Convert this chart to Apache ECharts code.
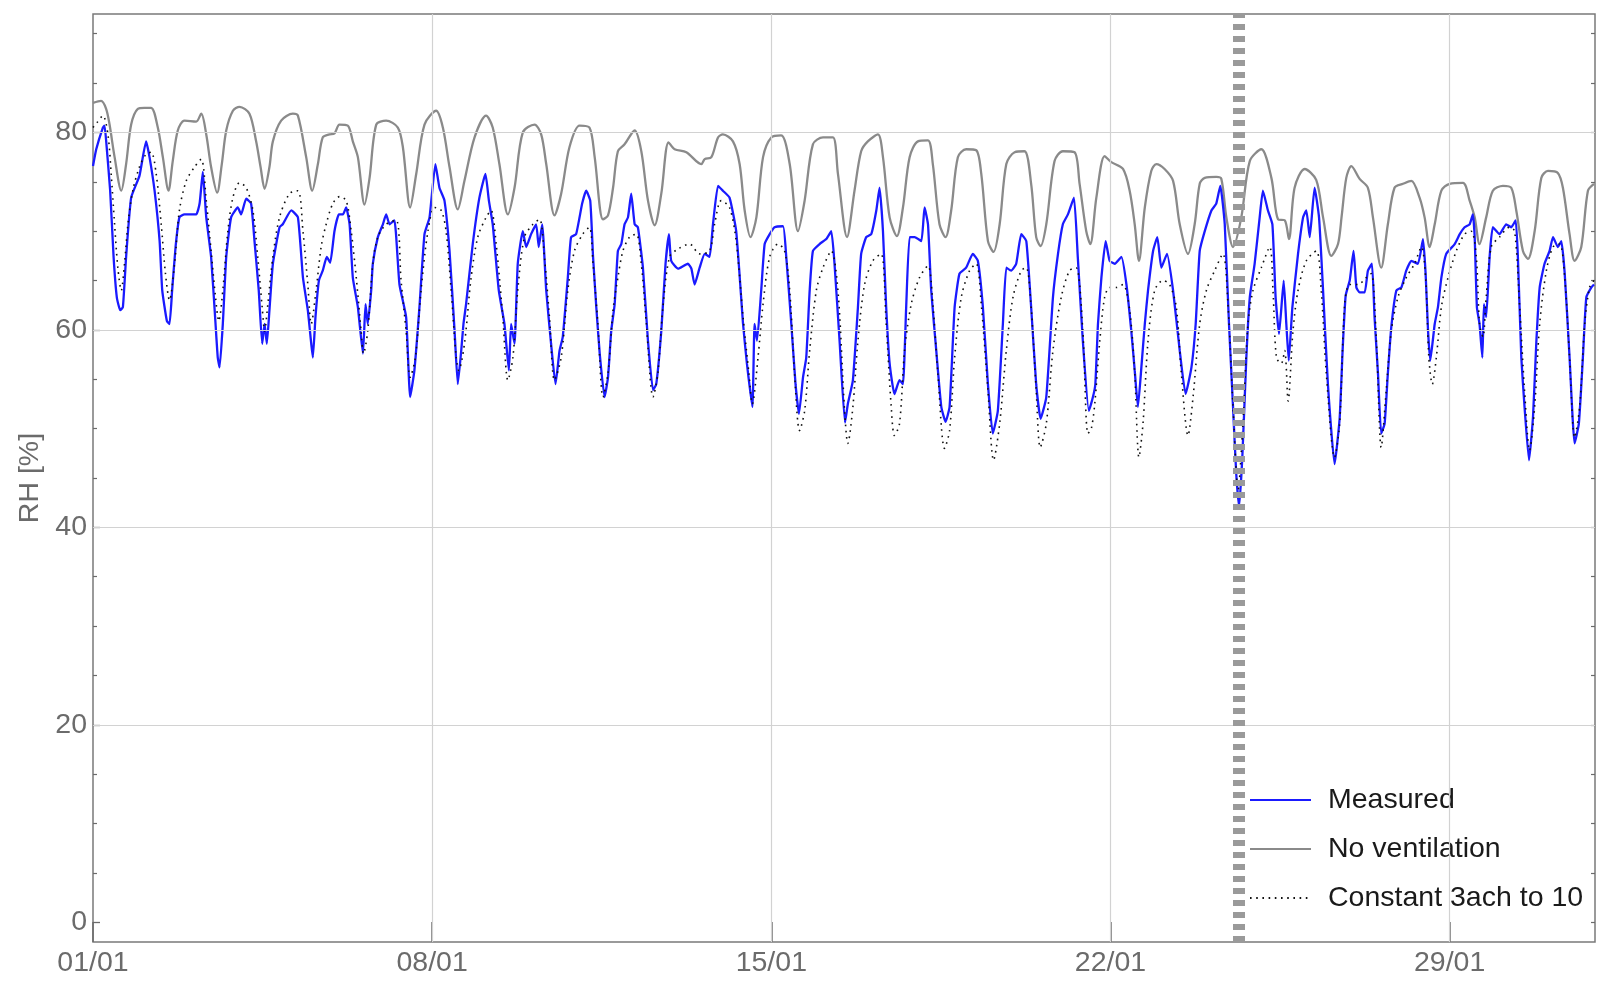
<!DOCTYPE html>
<html><head><meta charset="utf-8">
<script src="https://cdn.jsdelivr.net/npm/echarts@6/dist/echarts.min.js"></script>
<style>html,body{margin:0;padding:0;background:#fff}#c{width:1612px;height:984px}</style>
</head><body><div id="c"></div>
<script>
// x values are hours since 01/01 00:00
const xTickHours = [0, 168, 336, 504, 672];
const xTickLabels = ['01/01', '08/01', '15/01', '22/01', '29/01'];
const yTicks = [0, 20, 40, 60, 80];
const yMinorTicks = [5, 10, 15, 25, 30, 35, 45, 50, 55, 65, 70, 75, 85, 90];
const yRightTicks = [0, 5, 10, 15, 20, 25, 30, 35, 40, 45, 50, 55, 60, 65, 70, 75, 80, 85, 90];
const eventHour = 567.4;

const measured = [
[0,76.6],[1.6,78.3],[4.9,80.5],[5.7,80.7],[6.5,79.2],[8.5,74.1],[10.2,67.4],[11.8,63.3],[13.5,62.0],[14.8,62.3],[16.4,67.4],[18.9,73.4],[23.0,75.6],[26.3,79.1],[28.0,77.5],[30.5,74.1],[33.0,69.0],[34.3,64.0],[36.6,60.9],[37.9,60.6],[39.2,64.0],[40.9,68.4],[42.8,71.4],[45.3,71.7],[51.1,71.7],[52.8,72.8],[54.4,76.0],[56.1,71.4],[58.5,67.4],[60.7,60.6],[61.8,57.2],[62.7,56.2],[64.3,60.6],[66.0,67.4],[68.4,71.4],[71.7,72.4],[73.4,71.7],[75.9,73.3],[78.3,72.8],[80.0,69.0],[82.1,64.0],[83.8,58.6],[85.0,60.6],[86.1,58.6],[87.4,62.0],[89.1,66.7],[92.4,70.4],[94.0,70.7],[98.2,72.1],[101.5,71.4],[104.0,65.3],[106.4,62.0],[108.1,58.6],[108.9,57.2],[110.2,61.3],[111.9,65.0],[113.8,66.0],[115.8,67.4],[117.5,66.8],[119.6,70.0],[121.8,71.7],[123.8,71.7],[125.4,72.4],[127.1,70.7],[128.7,65.3],[131.2,62.3],[133.7,57.6],[135,62.6],[136.1,60.6],[137.8,64.0],[138.6,66.7],[141.1,69.4],[143.6,70.7],[145.2,71.7],[146.9,70.7],[149.3,71.1],[151.8,64.6],[155.1,61.3],[157.1,53.2],[159.2,55.9],[161.7,62.3],[164.2,69.7],[166.7,71.4],[169.6,76.8],[171.6,74.4],[174.1,73.1],[176.6,68.0],[179.1,59.9],[180.7,54.5],[182.4,57.9],[183.5,60.6],[184.8,62.6],[188.1,68.7],[191.4,73.4],[194.4,75.8],[196.1,73.1],[198,70.7],[201,64.0],[203.8,60.6],[206,55.9],[207.1,60.6],[208.8,58.6],[210.4,66.7],[212.9,70.0],[214.6,68.4],[217,69.7],[219.5,70.7],[220.8,68.4],[222.5,70.7],[224.5,64.0],[226.9,58.6],[229.1,54.5],[231.1,57.9],[232.7,59.3],[235.2,65.3],[236.8,69.4],[239.3,69.7],[242.3,72.8],[244.3,74.1],[246.3,73.1],[247.7,67.4],[249.3,62.3],[251,57.6],[253.4,53.2],[255.1,55.2],[256.7,59.9],[258.4,62.6],[260,68.0],[261.7,68.7],[263.3,70.7],[265,71.4],[266.6,73.8],[268.3,70.7],[269.9,70.4],[272.4,66.3],[274.9,58.9],[277.4,53.9],[279,54.5],[281.5,59.9],[283.6,66.7],[285.3,69.7],[286.4,67.0],[289.8,66.2],[294.7,66.7],[296.4,66.2],[298,64.6],[300.5,66.3],[303,67.7],[305.4,67.4],[307.1,70.7],[309.6,74.6],[312,74.1],[315.3,73.4],[318.6,70.0],[322,60.6],[323.9,56.6],[326.6,52.2],[327.7,60.6],[328.9,58.9],[331,64.0],[332.7,68.7],[335.2,69.7],[337.6,70.4],[341.8,70.5],[343.4,67.4],[345.9,60.6],[348,54.5],[349.7,51.5],[351.7,55.2],[353.3,57.2],[355,64.0],[356.6,68.0],[359.9,68.7],[363.2,69.2],[365.7,70.0],[367.3,66.7],[369.8,58.9],[372.5,50.6],[373.9,52.5],[376.4,54.9],[378.9,62.3],[380.5,67.7],[383,69.4],[385.5,69.7],[388,72.1],[389.6,74.4],[391.3,70.0],[392.9,62.3],[394.6,56.6],[397,53.5],[399.5,54.9],[401.2,54.5],[402.8,62.3],[404.5,69.4],[407,69.4],[410.3,69.0],[411.9,72.4],[413.6,70.7],[415.2,64.0],[417.7,57.9],[420.2,52.2],[422.3,50.7],[424.3,52.2],[426.8,62.3],[429.2,65.7],[432.5,66.3],[435.8,67.7],[438.3,67.0],[440.8,62.3],[443.3,54.5],[445.7,49.5],[448.2,51.8],[450.7,60.6],[452.4,66.3],[454.8,66.0],[457.3,66.7],[459.8,69.7],[462.3,69.0],[464.7,62.3],[467.2,54.5],[469.4,51.0],[472.2,53.2],[475.5,63.3],[478,67.7],[480.4,70.7],[482.9,71.7],[485.9,73.4],[487.8,67.4],[490.3,58.9],[493.3,51.8],[495.3,53.2],[496.5,54.5],[497.8,60.6],[499.5,65.3],[501.6,69.0],[503.6,67.0],[506.1,66.7],[509.4,67.4],[511.9,64.6],[514.3,59.9],[516,55.9],[517.6,52.2],[519.3,56.2],[521,60.6],[522.6,64.0],[525.1,68.0],[527.2,69.4],[529.2,66.3],[532,67.7],[535,64.0],[538.3,57.9],[541.2,53.5],[544.1,56.2],[546.2,60.6],[548.2,68.0],[550.7,70.0],[554,72.1],[556.4,72.8],[558.4,74.6],[560.6,70.7],[562.7,60.6],[564.7,52.2],[566.3,45.4],[567.7,42.1],[569.3,47.1],[571.3,57.2],[573,63.3],[575.4,66.7],[577.9,71.4],[579.5,74.1],[582,72.1],[584.2,70.7],[585.8,63.3],[587.5,59.6],[589.8,65.0],[591.1,60.6],[592.3,56.9],[594.1,62.3],[596.9,67.7],[599.4,71.4],[601,72.1],[602.7,69.4],[605.1,74.4],[607.3,71.4],[609.3,64.0],[611.7,54.5],[615,46.4],[617.5,51.0],[619,58.0],[620.5,63.5],[622.5,65.0],[624.4,68.0],[625.8,64.3],[627.4,63.8],[629.9,63.8],[631.5,66.0],[633.5,66.7],[634.8,61.3],[636.5,55.6],[638.1,49.5],[639.8,50.5],[641.4,55.6],[643.1,60.3],[645.6,64.0],[648.1,64.3],[650.5,66.0],[653,67.0],[656.3,66.7],[658.8,69.2],[660.1,65.7],[661.3,59.9],[662.4,56.9],[664.6,60.6],[666.2,62.3],[667.9,65.3],[670.3,67.7],[674.5,68.7],[677,69.7],[679.4,70.4],[681.9,70.7],[683.5,71.7],[684.4,69.4],[685.5,62.3],[686.8,60.6],[688.2,57.2],[689,62.6],[690.1,61.3],[691.8,67.4],[693.4,70.4],[696.7,69.7],[700,70.7],[702.5,70.4],[704.7,71.1],[705.8,67.4],[707.5,57.2],[709.1,52.2],[711.3,46.8],[713.3,51.2],[714.9,58.6],[716.6,64.3],[719,66.7],[721.5,68.0],[723.2,69.4],[725.6,68.4],[727.3,69.0],[729,65.7],[731.4,57.2],[733.9,48.5],[736,50.5],[738,57.2],[739.7,63.3],[742.2,64.3],[743.5,64.6]
];

const noVentilation = [
[0,83.0],[4.0,83.2],[6.5,82.4],[8.2,80.8],[10.7,77.5],[14.0,74.1],[16.4,76.8],[18.9,80.8],[22.2,82.4],[25.5,82.5],[28.8,82.5],[32.1,80.5],[34.6,77.5],[37.4,74.1],[39.5,77.1],[42.0,80.2],[45.3,81.2],[51.1,81.1],[53.6,81.9],[56.1,79.8],[58.5,76.5],[61.5,73.9],[63.8,76.8],[66.0,80.2],[69.3,82.2],[72.6,82.6],[77.5,81.9],[80.8,79.1],[83.0,76.5],[85.0,74.3],[87.4,76.5],[89.1,79.1],[93.2,81.2],[99.0,81.9],[101.5,81.7],[105.6,77.5],[108.6,74.1],[111.4,76.8],[113.8,79.5],[117.1,79.8],[119.6,79.9],[122.1,80.8],[126.2,80.7],[128.7,79.1],[131.2,77.5],[134.5,72.7],[137,75.4],[140.3,80.8],[145.2,81.2],[151,80.5],[153.5,78.5],[157.1,72.4],[160.1,75.8],[164.2,80.8],[170,82.2],[173.3,80.5],[176.6,76.5],[180.7,72.2],[184,75.1],[189,79.5],[194.7,81.7],[198,80.5],[201.3,76.8],[205.5,71.7],[208.8,74.4],[212.9,80.0],[218.7,80.8],[222,79.8],[224.5,76.8],[228.6,71.6],[231.9,73.8],[236,78.5],[241,80.7],[245.9,80.5],[248.5,77.5],[252.6,71.2],[255.1,71.6],[257.6,74.4],[260,78.1],[263.3,78.8],[268.3,80.2],[271.6,78.1],[274.9,73.1],[278.2,70.6],[281.5,73.8],[285.1,79.0],[288.1,78.3],[293.9,78.0],[301.3,76.8],[303,77.3],[306.3,77.5],[309.6,79.5],[312,79.8],[317,79.1],[320.3,76.8],[322.8,72.1],[325.7,69.4],[328.6,71.4],[331.9,77.5],[336,79.5],[340.9,79.7],[345.1,76.8],[349.2,70.0],[352.5,73.1],[356.6,78.8],[361.6,79.5],[366.5,79.5],[369,75.8],[373.5,69.4],[377.2,74.1],[380.5,78.1],[383.8,79.1],[388.8,79.8],[391.3,77.5],[394.6,71.4],[398.2,69.5],[401.2,72.4],[404.5,77.5],[408.6,79.1],[413.6,79.2],[416,76.8],[419.3,70.7],[422.3,69.4],[425.1,72.1],[428.4,77.5],[432.5,78.3],[437.5,78.2],[440,75.8],[443.3,69.0],[446.1,67.9],[449.1,70.7],[452.4,76.8],[456.5,78.0],[461.4,78.1],[464.7,74.8],[467.2,69.4],[469.4,68.5],[472.2,70.7],[476.3,77.1],[480.4,78.1],[486.2,78.0],[488.7,74.8],[492,70.0],[494,68.7],[497,73.4],[501.1,77.6],[504.4,77.0],[510.2,76.3],[513.5,74.1],[516,70.7],[518.1,67.0],[521,72.4],[524.2,76.1],[526.7,76.8],[530.8,76.3],[535,75.1],[538.3,70.7],[542.4,67.7],[545.7,70.7],[548.2,74.8],[550.7,75.4],[556.4,75.5],[558.9,75.3],[561.4,71.4],[564.7,68.4],[568.8,71.4],[573,77.1],[578.7,78.3],[583.7,75.4],[587,71.2],[590.3,71.1],[592.4,69.2],[595.2,74.4],[600.2,76.3],[605.9,75.2],[609.3,71.4],[613.4,67.5],[616.7,68.7],[618.5,71.5],[620.8,75.4],[623.3,76.6],[627.4,75.3],[631.5,74.4],[634,71.4],[638.1,66.3],[641.4,70.7],[644.7,74.4],[648.9,74.8],[653,75.1],[657.1,73.4],[659.6,71.4],[662.1,68.4],[664.6,70.7],[667.9,74.1],[672,74.8],[678.6,74.9],[681.9,73.1],[684.4,71.4],[686.8,68.7],[690.1,71.4],[693.4,74.1],[698.4,74.6],[702.5,74.4],[705,72.1],[708.3,68.0],[710.8,67.2],[714.1,70.0],[717.4,75.4],[720.7,76.1],[725.6,75.9],[728.1,74.4],[731.4,69.7],[733.9,67.0],[737.2,68.4],[740.5,74.1],[743.5,74.8]
];

const constant3ach = [
[0,80.5],[2,81.0],[4.9,81.7],[7.4,79.8],[9.0,75.8],[10.7,70.7],[12.3,66.3],[14.0,64.0],[15.6,66.7],[17.3,70.7],[19.7,74.1],[23.0,76.5],[26.3,77.8],[28.8,78.0],[31.3,75.8],[33.8,70.7],[35.9,65.7],[37.9,63.0],[40.4,66.7],[42.8,72.1],[46.2,75.1],[50.3,76.5],[53.6,77.3],[56.1,73.1],[58.5,68.0],[60.7,63.3],[62.3,60.9],[64.3,64.0],[66.8,70.0],[69.3,73.4],[72.6,74.9],[75.9,74.4],[79.2,72.1],[81.6,67.4],[83.8,62.3],[85.0,59.9],[86.6,62.6],[89.1,67.4],[92.4,71.4],[97.3,73.8],[101.5,74.1],[104.0,70.0],[106.4,64.6],[108.1,60.6],[110.5,64.0],[113.0,68.4],[115.5,70.7],[118.8,72.8],[122.1,73.5],[125.4,73.1],[127.9,70.0],[130.4,65.3],[132.8,59.9],[134,57.6],[136.1,59.9],[138.6,66.7],[141.1,69.4],[145.2,70.7],[150.2,71.1],[152.6,65.0],[155.1,59.9],[157.1,55.2],[159.7,57.2],[162.5,64.0],[165.9,70.0],[169.2,72.4],[172.5,72.1],[174.9,70.0],[177.4,64.0],[179.9,57.2],[181.2,55.9],[184.0,58.6],[187.3,65.3],[190.6,69.4],[194.7,71.4],[197.2,72.1],[199.7,68.7],[203.0,61.3],[205.5,54.9],[208,57.2],[210.4,64.0],[213.7,69.4],[217.9,70.7],[221.2,71.2],[223.6,67.4],[226.1,61.3],[228.6,54.9],[231.9,57.2],[235.2,64.0],[238.5,68.0],[242.6,69.7],[245.9,70.4],[247.7,66.7],[250.1,60.6],[252.6,53.2],[255.1,55.6],[257.6,62.0],[260,65.3],[262.5,68.0],[265.8,69.4],[269.1,69.7],[271.6,66.7],[274.1,60.6],[277.4,53.2],[279.8,55.6],[282.3,62.3],[285.6,67.4],[289.8,68.2],[295.5,68.7],[300.5,67.7],[305.4,68.0],[307.9,70.7],[311.2,73.1],[315.3,72.4],[318.6,69.0],[322,61.3],[324.9,55.6],[326.6,52.5],[329.4,57.2],[331.9,62.6],[335.2,67.4],[339.3,68.7],[342.6,68.0],[345.1,64.0],[347.5,55.6],[350,49.8],[352.5,51.8],[355,57.9],[358.3,64.0],[361.6,66.3],[365.7,68.0],[369,64.0],[372.3,51.8],[373.9,48.5],[376.4,52.2],[378.9,58.9],[382.2,64.6],[386.3,67.0],[390.4,67.7],[392.9,60.6],[395.4,52.2],[397,49.3],[399.5,50.5],[402,57.9],[405.3,62.6],[409.4,65.3],[413.6,66.5],[416,62.6],[418.5,55.6],[421.8,48.0],[424.3,49.8],[426.8,57.2],[430.1,63.3],[434.2,66.0],[437.5,66.7],[440,62.6],[443.3,53.9],[446.1,46.8],[449.1,50.5],[452.4,57.9],[455.7,63.3],[459.8,66.0],[462.3,66.3],[464.7,62.3],[467.2,53.9],[469.2,48.1],[472.2,50.5],[475.5,57.9],[479.6,63.3],[483.7,66.0],[487,66.3],[490.3,59.9],[492.8,49.5],[494.5,50.0],[496.2,52.5],[498.7,58.9],[501.1,63.3],[503.6,64.3],[506.9,64.3],[510.2,64.6],[513.5,62.0],[516,55.6],[518.1,47.1],[520.1,50.5],[522.6,58.9],[525.9,64.0],[530,65.0],[533.3,64.6],[536.6,62.3],[539.1,55.6],[542.4,49.3],[544.9,53.2],[548.2,60.6],[551.5,64.0],[555.6,66.0],[559.7,67.7],[562.2,62.6],[564.7,52.2],[567.2,43.8],[569.6,50.5],[572.1,60.6],[574.6,64.0],[578.7,66.3],[582.9,68.4],[584.5,64.0],[586.2,57.2],[588.6,56.6],[590.3,57.9],[592,52.8],[594.4,59.9],[596.9,64.0],[601,67.0],[606,68.0],[608.4,64.0],[610.9,55.6],[615,47.1],[617.5,50.5],[620,62.6],[622.5,64.6],[626.6,64.6],[630.7,65.3],[633.2,65.7],[635.7,58.9],[638.1,48.1],[640.6,53.9],[643.1,59.9],[646.4,63.3],[650.5,65.3],[654.6,66.7],[658,68.4],[660.1,65.3],[661.7,57.2],[663.4,54.5],[665.4,57.2],[667.9,62.3],[671.2,65.3],[675.3,68.0],[679.4,69.7],[682.7,70.0],[685.2,67.4],[686.8,60.6],[688.5,59.3],[690.1,63.3],[692.6,68.4],[696.7,69.4],[701.7,70.4],[704.2,70.0],[706.7,62.3],[709.1,53.9],[711.6,47.8],[714.1,52.2],[716.6,60.6],[719.9,66.0],[723.2,68.4],[726.5,68.7],[729,65.3],[731.4,57.2],[733.9,49.1],[736.4,52.2],[738.9,60.6],[741.3,64.3],[743.5,65.0]
];

const FONT = '"Liberation Sans", Arial, sans-serif';
const LABEL_COLOR = '#6b6b6b';
const FS = 28.5;
const chart = echarts.init(document.getElementById('c'), null, {renderer: 'canvas'});

const gridLines = yTicks.filter(v => v > 0).map(v => ({yAxis: v}))
  .concat(xTickHours.filter(v => v > 0).map(v => ({xAxis: v})));

chart.setOption({
  animation: false,
  backgroundColor: '#ffffff',
  grid: {left: 93, right: 17, top: 14, bottom: 42, show: true, borderColor: '#7a7a7a', borderWidth: 1.5, outerBoundsMode: 'none', containLabel: false},
  xAxis: {
    type: 'value', min: 0, max: 744, position: 'bottom',
    axisLine: {show: false, onZero: false},
    splitLine: {show: false},
    axisTick: {show: true, customValues: xTickHours, inside: true, length: 20, lineStyle: {color: '#6b6b6b', width: 1.5}},
    axisLabel: {show: true, customValues: xTickHours, margin: 7, fontSize: FS, color: LABEL_COLOR, fontFamily: FONT,
      formatter: v => xTickLabels[xTickHours.indexOf(v)] || ''}
  },
  yAxis: [
    {
      type: 'value', min: -2, max: 92, position: 'left',
      name: 'RH [%]', nameLocation: 'middle', nameGap: 46, nameRotate: 90,
      nameTextStyle: {fontSize: FS, color: LABEL_COLOR, fontFamily: FONT},
      axisLine: {show: false, onZero: false}, splitLine: {show: false},
      axisTick: {show: true, customValues: yTicks, inside: true, length: 7, lineStyle: {color: '#6b6b6b', width: 1.3}},
      axisLabel: {show: true, customValues: yTicks, margin: 6, fontSize: FS, color: LABEL_COLOR, fontFamily: FONT}
    },
    {
      type: 'value', min: -2, max: 92, position: 'left',
      axisLine: {show: false, onZero: false}, splitLine: {show: false},
      axisTick: {show: true, customValues: yMinorTicks, inside: true, length: 4, lineStyle: {color: '#6b6b6b', width: 1.2}},
      axisLabel: {show: false}
    },
    {
      type: 'value', min: -2, max: 92, position: 'right',
      axisLine: {show: false, onZero: false}, splitLine: {show: false},
      axisTick: {show: true, customValues: yRightTicks, inside: true, length: 4, lineStyle: {color: '#6b6b6b', width: 1.2}},
      axisLabel: {show: false}
    }
  ],
  legend: {
    orient: 'vertical', left: 1246, top: 771,
    padding: [14, 6, 6, 3],
    backgroundColor: '#ffffff',
    itemWidth: 61, itemHeight: 14, itemGap: 19,
    itemStyle: {opacity: 0},
    textStyle: {fontSize: FS, color: '#1a1a1a', fontFamily: FONT, lineHeight: 30, padding: [0, 0, 0, 12]},
    data: ['Measured', 'No ventilation', 'Constant 3ach to 10']
  },
  series: [
    {
      name: 'grid', type: 'line', data: [], silent: true, z: 1,
      markLine: {silent: true, symbol: ['none', 'none'], label: {show: false}, animation: false,
        lineStyle: {color: '#d2d2d2', width: 1.2, type: 'solid'}, emphasis: {disabled: true}, data: gridLines}
    },
    {
      name: 'Measured', type: 'line', data: measured, symbol: 'none', showSymbol: false, z: 3, smooth: 0.15,
      lineStyle: {color: '#1a1aff', width: 2.3}, itemStyle: {color: '#1a1aff'}
    },
    {
      name: 'No ventilation', type: 'line', data: noVentilation, symbol: 'none', showSymbol: false, z: 2, smooth: 0.3,
      lineStyle: {color: '#8a8a8a', width: 2.3}, itemStyle: {color: '#8a8a8a'}
    },
    {
      name: 'Constant 3ach to 10', type: 'line', data: constant3ach, symbol: 'none', showSymbol: false, z: 4, smooth: 0.3,
      lineStyle: {color: '#111111', width: 1.6, type: [1.6, 4.6]}, itemStyle: {color: '#111111'}
    },
    {
      name: 'event', type: 'line', data: [], silent: true, z: 6,
      markLine: {silent: true, symbol: ['none', 'none'], label: {show: false}, animation: false,
        lineStyle: {color: '#9a9a9a', width: 12, type: [6, 6]}, emphasis: {disabled: true}, data: [{xAxis: eventHour}]}
    }
  ]
});
</script>
</body></html>
